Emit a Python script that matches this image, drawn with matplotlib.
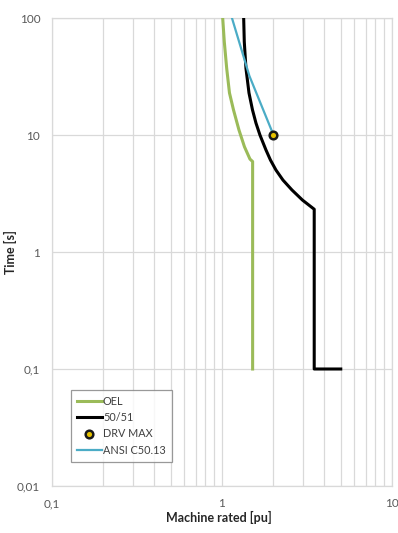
import numpy as np
import matplotlib.pyplot as plt
from matplotlib.ticker import FixedLocator, LogLocator, NullFormatter, FuncFormatter

plt.rcParams['font.family'] = ['Lato', 'DejaVu Sans']

# OEL curve (pu, s)
oel_i = [1.01, 1.032, 1.066, 1.107, 1.169, 1.259, 1.356, 1.461, 1.515, 1.515]
oel_t = [100, 62.7, 37.2, 22.9, 16.4, 11.04, 7.94, 6.23, 5.93, 0.1]

# 50/51 relay curve
rel_i = [1.342, 1.353, 1.384, 1.442, 1.512, 1.585, 1.673, 1.815, 1.929, 2.078,
         2.285, 2.581, 2.975, 3.49, 3.49, 5.0]
rel_t = [100, 62.7, 37.2, 22.9, 16.4, 12.66, 10.0, 7.45, 6.11, 5.02,
         4.12, 3.39, 2.78, 2.32, 0.1, 0.1]

# ANSI C50.13 field winding capability
ansi_i = [1.145, 1.45, 2.01]
ansi_t = [100, 32, 10]

# DRV MAX point
drv_i = [2.01]
drv_t = [10]

fig = plt.figure(figsize=(3.98, 5.33), dpi=100)
ax = fig.add_axes([0.1307, 0.0882, 0.854, 0.878])

ax.plot(oel_i, oel_t, color='#9bbb59', lw=2.2, label='OEL', zorder=3,
        solid_joinstyle='round')
ax.plot(rel_i, rel_t, color='black', lw=2.2, label='50/51', zorder=3,
        solid_joinstyle='round')
ax.plot(drv_i, drv_t, ls='none', marker='o', ms=5.5, mfc='#e6c200', mec='#1a1a1a',
        mew=1.8, label='DRV MAX', zorder=5)
ax.plot(ansi_i, ansi_t, color='#4bacc6', lw=1.6, label='ANSI C50.13', zorder=4,
        solid_joinstyle='round')

ax.set_xscale('log')
ax.set_yscale('log')
ax.set_xlim(0.1, 10)
ax.set_ylim(0.01, 100)

ax.xaxis.set_major_locator(FixedLocator([0.1, 1, 10]))
ax.xaxis.set_minor_locator(LogLocator(base=10, subs=np.arange(2, 10)))
ax.xaxis.set_minor_formatter(NullFormatter())
ax.yaxis.set_major_locator(FixedLocator([0.01, 0.1, 1, 10, 100]))
ax.yaxis.set_minor_locator(FixedLocator([]))

fmt = FuncFormatter(lambda v, p: ('%g' % v).replace('.', ','))
ax.xaxis.set_major_formatter(fmt)
ax.yaxis.set_major_formatter(fmt)

ax.grid(True, which='major', color='#d9d9d9', lw=0.9)
ax.grid(True, which='minor', axis='x', color='#d9d9d9', lw=0.9)
ax.set_axisbelow(True)
for s in ax.spines.values():
    s.set_color('#d9d9d9')
    s.set_linewidth(0.9)

ax.tick_params(which='both', length=0, colors='#595959', labelsize=8.5)
ax.tick_params(axis='x', pad=9)
ax.tick_params(axis='y', pad=8.5)

ax.set_xlabel('Machine rated [pu]', fontsize=9, fontweight='bold', color='#262626')
ax.set_ylabel('Time [s]', fontsize=9, fontweight='bold', color='#262626')
ax.xaxis.set_label_coords(0.49, -0.053)
ax.yaxis.set_label_coords(-0.103, 0.5)

leg = ax.legend(loc='lower left', bbox_to_anchor=(0.04, 0.04), fontsize=7.8, frameon=True,
                fancybox=False, edgecolor='#808080', handlelength=2.3, handletextpad=0.1,
                borderpad=0.55, labelspacing=0.5)
leg.get_frame().set_linewidth(0.9)
for t in leg.get_texts():
    t.set_color('#404040')

fig.savefig('out.png', dpi=100)
